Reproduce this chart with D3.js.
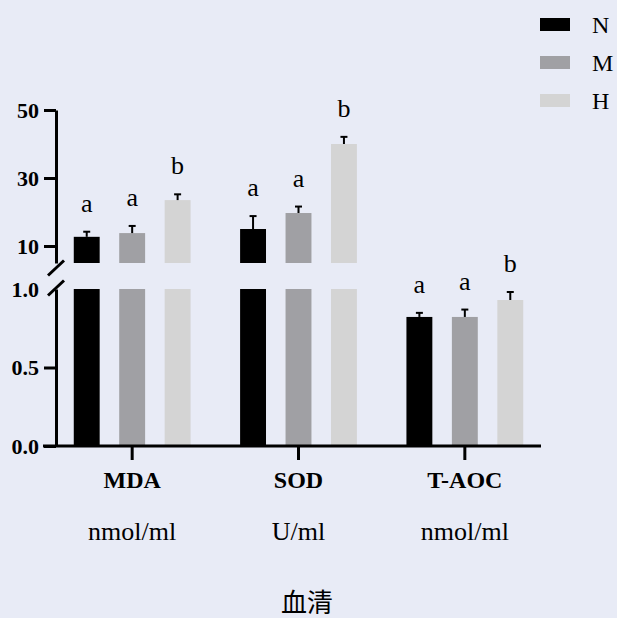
<!DOCTYPE html>
<html>
<head>
<meta charset="utf-8">
<script src="https://cdn.jsdelivr.net/npm/d3@7"></script>
<style>
  html, body { margin: 0; padding: 0; background: #E8EBF6; }
  svg { display: block; }
  .serif { font-family: "Liberation Serif", "DejaVu Serif", serif; }
  .cjk { font-family: "Noto Sans CJK SC", sans-serif; }
</style>
</head>
<body>
<svg id="chart" width="617" height="618"></svg>
<script>
// Serum oxidative markers by group (N / M / H)
const categories = ["MDA", "SOD", "T-AOC"];
const units = ["nmol/ml", "U/ml", "nmol/ml"];
const series = ["N", "M", "H"];
const meanN = [12.7, 15.0, 0.822];
const meanM = [13.8, 19.7, 0.822];
const meanH = [23.5, 40.0, 0.930];
const errN = [1.5, 3.8, 0.026];
const errM = [2.1, 1.9, 0.047];
const errH = [1.7, 2.1, 0.051];
const letterN = ["a", "a", "a"];
const letterM = ["a", "a", "a"];
const letterH = ["b", "b", "b"];
const upperTicks = [10, 30, 50];
const lowerTicks = [0, 0.5, 1.0];
const xTitle = "血清";

const colors = { N: "#000000", M: "#A0A0A4", H: "#D4D4D4" };
const means = { N: meanN, M: meanM, H: meanH };
const errs = { N: errN, M: errM, H: errH };
const letters = { N: letterN, M: letterM, H: letterH };

const rows = [];
categories.forEach((c, i) => {
  series.forEach(s => {
    rows.push({ cat: c, ser: s, v: means[s][i], e: errs[s][i], lab: letters[s][i] });
  });
});

const svg = d3.select("#chart");

// scales: broken y axis, upper segment 5–50, lower segment 0–1
const yUp = d3.scaleLinear().domain([5, 50]).range([263, 110]);
const yLo = d3.scaleLinear().domain([0, 1]).range([446, 289]);
const axisX = 56;
const baseY = yLo(0);

const x0 = d3.scaleBand().domain(categories).range([49, 548]).padding(0);
const x1 = d3.scaleBand().domain(series).range([0, x0.bandwidth()])
  .paddingInner(0.43).paddingOuter(0.545);

const g = svg.append("g");

// bars
const bars = g.selectAll("g.bar").data(rows).join("g").attr("class", "bar");
bars.each(function(d) {
  const sel = d3.select(this);
  const bx = x0(d.cat) + x1(d.ser);
  const bw = x1.bandwidth();
  // lower segment
  const loTop = yLo(Math.min(d.v, 1));
  sel.append("rect").attr("x", bx).attr("y", loTop)
    .attr("width", bw).attr("height", baseY - loTop).attr("fill", colors[d.ser]);
  if (d.v > 1) {
    const upTop = yUp(d.v);
    sel.append("rect").attr("x", bx).attr("y", upTop)
      .attr("width", bw).attr("height", yUp.range()[0] - upTop).attr("fill", colors[d.ser]);
  }
  // error bar (upper only)
  const sc = d.v > 1 ? yUp : yLo;
  const cx = bx + bw / 2;
  const yTop = sc(d.v + d.e);
  sel.append("line").attr("x1", cx).attr("x2", cx)
    .attr("y1", sc(d.v)).attr("y2", yTop)
    .attr("stroke", "#000").attr("stroke-width", 2);
  sel.append("line").attr("x1", cx - 3.5).attr("x2", cx + 3.5)
    .attr("y1", yTop).attr("y2", yTop)
    .attr("stroke", "#000").attr("stroke-width", 2);
  // significance letter
  sel.append("text").attr("class", "serif").attr("x", cx).attr("y", yTop - 20)
    .attr("text-anchor", "middle").style("font-size", "26px")
    .text(d.lab);
});

// y axes
function styleAxis(ax) {
  ax.attr("font-family", null).attr("font-size", null);
  ax.selectAll("path.domain").attr("stroke", "#000").attr("stroke-width", 3);
  ax.selectAll(".tick line").attr("stroke", "#000").attr("stroke-width", 3);
  ax.selectAll(".tick text").attr("class", "serif").attr("fill", "#000")
    .style("font-size", "22px").style("font-weight", "bold");
}
const upAx = svg.append("g").attr("transform", `translate(${axisX},0)`)
  .call(d3.axisLeft(yUp).tickValues(upperTicks).tickFormat(d3.format("d"))
    .tickSizeInner(12).tickSizeOuter(0).tickPadding(5));
styleAxis(upAx);
const loAx = svg.append("g").attr("transform", `translate(${axisX},0)`)
  .call(d3.axisLeft(yLo).tickValues(lowerTicks).tickFormat(d3.format(".1f"))
    .tickSizeInner(12).tickSizeOuter(0).tickPadding(5));
styleAxis(loAx);
// the 1.0 tick is replaced by the break mark
loAx.selectAll(".tick").filter(d => d === 1).select("line").remove();

// break marks
[268, 288].forEach(cy => {
  svg.append("line")
    .attr("x1", axisX - 8).attr("y1", cy + 7.5)
    .attr("x2", axisX + 8).attr("y2", cy - 7.5)
    .attr("stroke", "#000").attr("stroke-width", 3);
});

// x axis
svg.append("line").attr("x1", 43).attr("x2", 541)
  .attr("y1", baseY).attr("y2", baseY)
  .attr("stroke", "#000").attr("stroke-width", 3);
categories.forEach((c, i) => {
  const cx = x0(c) + x0.bandwidth() / 2;
  svg.append("line").attr("x1", cx).attr("x2", cx)
    .attr("y1", baseY).attr("y2", baseY + 14)
    .attr("stroke", "#000").attr("stroke-width", 3);
  svg.append("text").attr("class", "serif").attr("x", cx).attr("y", 488)
    .attr("text-anchor", "middle")
    .style("font-size", "24px").style("font-weight", "bold").text(c);
  svg.append("text").attr("class", "serif").attr("x", cx).attr("y", 540)
    .attr("text-anchor", "middle")
    .style("font-size", "26px").text(units[i]);
});

// x title
svg.append("text").attr("class", "cjk").attr("x", 307).attr("y", 612)
  .attr("text-anchor", "middle")
  .style("font-size", "26px").text(xTitle);

// legend
const leg = svg.append("g");
series.forEach((s, i) => {
  const cy = 24.5 + i * 38;
  leg.append("rect").attr("x", 540).attr("y", cy - 6.5)
    .attr("width", 30).attr("height", 13).attr("fill", colors[s]);
  leg.append("text").attr("class", "serif").attr("x", 592).attr("y", cy + 8)
    .style("font-size", "24px").text(s);
});
</script>
</body>
</html>
